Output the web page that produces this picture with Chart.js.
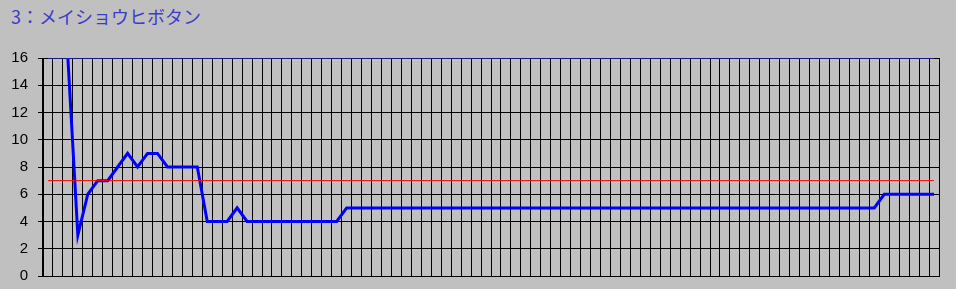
<!DOCTYPE html>
<html lang="ja">
<head>
<meta charset="UTF-8">
<title>3：メイショウヒボタン</title>
<style>
    body { margin: 0; background: #C0C0C0; }
    .wrap { position: relative; width: 956px; height: 289px; overflow: hidden; }
    .title {
        position: absolute; left: 11px; top: 7px;
        font: 18px/18px "Noto Sans CJK JP", sans-serif;
        color: #3c3cc8; white-space: nowrap;
    }
    canvas { position: absolute; left: 0; top: 0; }
</style>
</head>
<body>
<div class="wrap">
    <div class="title">3：メイショウヒボタン</div>
    <canvas id="chart" width="956" height="295"></canvas>
</div>

<script src="https://cdn.jsdelivr.net/npm/chart.js"></script>
<script>
// 90 points along the x axis, no labels shown
const categories = ['1','2','3','4','5','6','7','8','9','10',
    '11','12','13','14','15','16','17','18','19','20',
    '21','22','23','24','25','26','27','28','29','30',
    '31','32','33','34','35','36','37','38','39','40',
    '41','42','43','44','45','46','47','48','49','50',
    '51','52','53','54','55','56','57','58','59','60',
    '61','62','63','64','65','66','67','68','69','70',
    '71','72','73','74','75','76','77','78','79','80',
    '81','82','83','84','85','86','87','88','89','90'];

const values = [null, null, 16, 3, 6, 7, 7, 8, 9, 8,
    9, 9, 8, 8, 8, 8, 4, 4, 4, 5,
    4, 4, 4, 4, 4, 4, 4, 4, 4, 4,
    5, 5, 5, 5, 5, 5, 5, 5, 5, 5,
    5, 5, 5, 5, 5, 5, 5, 5, 5, 5,
    5, 5, 5, 5, 5, 5, 5, 5, 5, 5,
    5, 5, 5, 5, 5, 5, 5, 5, 5, 5,
    5, 5, 5, 5, 5, 5, 5, 5, 5, 5,
    5, 5, 5, 5, 6, 6, 6, 6, 6, 6];

const redLevel = 7;
const topLevel = 16;
const yTicks = [0, 2, 4, 6, 8, 10, 12, 14, 16];

function levelLine(v) {
    return [{ x: categories[0], y: v }, { x: categories[categories.length - 1], y: v }];
}

new Chart(document.getElementById('chart'), {
    type: 'line',
    data: {
        labels: categories,
        datasets: [
            {
                data: levelLine(topLevel),
                borderColor: '#3030ff',
                borderWidth: 1,
                pointRadius: 0
            },
            {
                data: levelLine(redLevel),
                borderColor: '#ff0000',
                borderWidth: 1,
                pointRadius: 0
            },
            {
                data: values,
                borderColor: '#0000ff',
                borderWidth: 3,
                pointRadius: 0,
                tension: 0,
                spanGaps: false
            }
        ]
    },
    options: {
        responsive: false,
        animation: false,
        layout: { padding: { top: 58, right: 17, bottom: 8, left: 0 } },
        plugins: {
            legend: { display: false },
            tooltip: { enabled: false }
        },
        scales: {
            x: {
                offset: true,
                grid: { offset: true, color: '#000', drawTicks: false },
                border: { color: '#000' },
                ticks: { display: false },
                afterFit: s => { s.height = 0; }
            },
            y: {
                min: 0,
                max: 16,
                afterBuildTicks: s => { s.ticks = yTicks.map(v => ({ value: v })); },
                grid: { color: '#000', tickLength: 5 },
                border: { color: '#000' },
                ticks: {
                    padding: 10,
                    color: '#000',
                    font: { family: 'Liberation Sans', size: 15 }
                },
                afterFit: s => { s.width = 43; }
            }
        }
    }
});
</script>
</body>
</html>
